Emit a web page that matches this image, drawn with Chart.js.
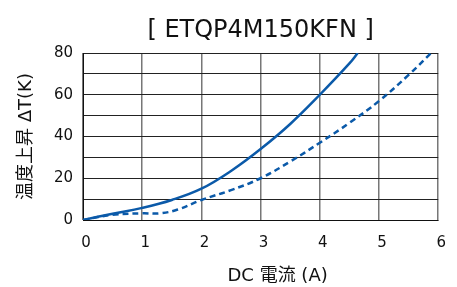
<!DOCTYPE html>
<html>
<head>
<meta charset="utf-8">
<script src="https://cdn.jsdelivr.net/npm/chart.js@4"></script>
<style>
  html, body { margin: 0; padding: 0; background: #fff; }
  #wrap { width: 457px; height: 287px; }
</style>
</head>
<body>
<div id="wrap"><canvas id="chart"></canvas></div>
<script>
// Temperature rise vs DC current, ETQP4M150KFN

const titleText = '[ ETQP4M150KFN ]';
const xTitle = 'DC 電流 (A)';
const yTitle = '温度上昇 ΔT(K)';

// solid curve
const solidX = [0, 0.5, 1, 1.5, 2, 2.5, 3, 3.5, 4, 4.5, 4.64];
const solidY = [0, 3, 5.8, 9.6, 15, 23.5, 34, 46, 60, 75, 80];

// dashed curve
const dashX = [0, 0.5, 1, 1.3, 1.6, 2, 2.5, 3, 3.5, 4, 4.5, 5, 5.5, 5.88];
const dashY = [0, 2.5, 3.2, 3.2, 5, 9.6, 14.3, 20, 28, 37, 46.5, 57, 69.5, 80];

const FONT = '"DejaVu Sans", "Noto Sans CJK JP", sans-serif';
const BLUE = '#0b5aa9';
const INK = '#111';

const toPoints = (xs, ys) => xs.map((x, i) => ({ x, y: ys[i] }));

// x axis caption sits a little right of the plot centre in the original
const xCaption = {
  id: 'xCaption',
  afterDraw(chart) {
    const { ctx, chartArea } = chart;
    ctx.save();
    ctx.font = `18px ${FONT}`;
    ctx.fillStyle = INK;
    ctx.textAlign = 'center';
    ctx.textBaseline = 'middle';
    ctx.fillText(xTitle, (chartArea.left + chartArea.right) / 2 + 17, chart.height - 11);
    ctx.restore();
  },
};

new Chart(document.getElementById('chart'), {
  type: 'scatter',
  data: {
    datasets: [
      {
        data: toPoints(solidX, solidY),
        showLine: true,
        borderColor: BLUE,
        borderWidth: 2.5,
        pointRadius: 0,
        tension: 0.4,
      },
      {
        data: toPoints(dashX, dashY),
        showLine: true,
        borderColor: BLUE,
        borderWidth: 2.5,
        borderDash: [6, 4],
        pointRadius: 0,
        tension: 0.4,
      },
    ],
  },
  plugins: [xCaption],
  options: {
    responsive: true,
    maintainAspectRatio: false,
    animation: false,
    layout: { padding: { left: 0, right: 6, top: 0, bottom: 0 } },
    plugins: {
      legend: { display: false },
      tooltip: { enabled: false },
      title: { display: false },
    },
    scales: {
      // top axis only carries the chart title, centred over the plot
      top: {
        type: 'linear',
        position: 'top',
        min: 0,
        max: 6,
        afterFit: (s) => { s.height = 53; },
        ticks: { display: false },
        grid: { display: false },
        border: { display: false },
        title: {
          display: true,
          text: titleText,
          color: INK,
          font: { family: FONT, size: 24 },
          padding: { top: 16, bottom: 0 },
        },
      },
      x: {
        type: 'linear',
        min: 0,
        max: 6,
        afterFit: (s) => { s.height = 67; },
        ticks: {
          stepSize: 1,
          color: INK,
          padding: 14,
          labelOffset: 3,
          font: { family: FONT, size: 15 },
        },
        grid: { color: '#777', lineWidth: 1.5, drawTicks: false },
        border: { color: INK, width: 1 },
      },
      y: {
        min: 0,
        max: 80,
        afterFit: (s) => { s.width = 83; },
        ticks: {
          stepSize: 10,
          autoSkip: false,
          color: INK,
          padding: 10,
          font: { family: FONT, size: 15 },
          callback: (v) => (v % 20 === 0 ? v : ''),
        },
        grid: { color: '#222', lineWidth: 1, drawTicks: false },
        border: { color: INK, width: 1 },
        title: {
          display: true,
          text: yTitle,
          color: INK,
          font: { family: FONT, size: 18 },
          padding: { top: 16, bottom: 0 },
        },
      },
    },
  },
});
</script>
</body>
</html>
